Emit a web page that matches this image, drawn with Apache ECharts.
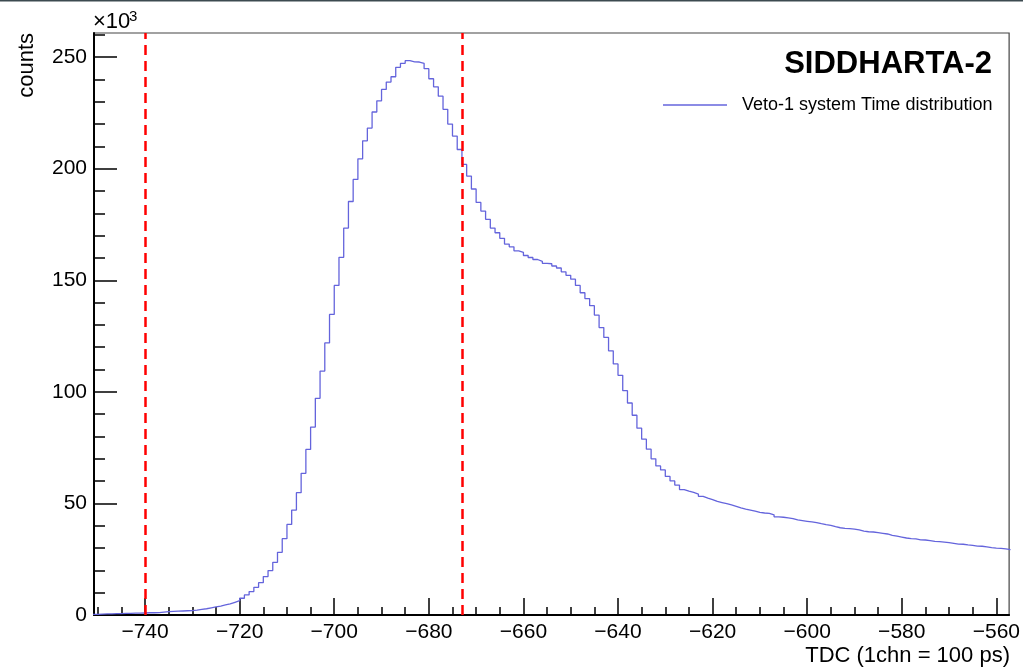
<!DOCTYPE html>
<html>
<head>
<meta charset="utf-8">
<script src="https://cdn.jsdelivr.net/npm/echarts@6/dist/echarts.min.js"></script>
<style>
html,body{margin:0;padding:0;background:#fff;}
#chart{width:1023px;height:667px;}
</style>
</head>
<body>
<div id="chart"></div>
<script>
// Histogram definition: bins of width 1 channel, first bin low edge at -751
const binLowEdge = -751;
const binWidth = 1;
// Counts per bin, in units of 10^3
const countsK = [
  0.3, 0.4, 0.5, 0.5, 0.6, 0.6, 0.7, 0.7, 0.8, 0.8,
  0.9, 1.0, 1.0, 1.1, 1.3, 1.5, 1.6, 1.7, 1.8, 1.9,
  2.0, 2.2, 2.5, 2.8, 3.2, 3.6, 4.0, 4.5, 5.0, 5.7,
  6.4, 7.5, 9.0, 10.5, 12.4, 14.5, 17.2, 19.9, 23.6, 28.1,
  34.2, 40.6, 47.0, 54.8, 63.5, 74.2, 84.2, 97.1, 109.3, 121.9,
  134.7, 147.7, 160.3, 173.4, 185.3, 195.2, 204.4, 212.5, 218.2, 225.4,
  230.4, 235.5, 238.8, 241.2, 245.4, 247.2, 248.4, 247.9, 247.8, 247.2,
  244.8, 240.3, 236.7, 232.5, 226.6, 220.0, 214.6, 208.6, 201.9, 196.7,
  190.9, 184.9, 181.0, 177.3, 173.4, 171.3, 168.8, 166.2, 165.0, 163.2,
  162.5, 161.1, 160.2, 159.3, 158.5, 157.6, 157.4, 156.4, 155.5, 153.8,
  152.2, 150.5, 147.7, 144.4, 141.8, 138.6, 134.4, 128.8, 124.4, 118.4,
  112.5, 107.4, 100.5, 95.0, 89.5, 83.7, 78.8, 74.3, 70.0, 66.8,
  65.0, 62.1, 60.1, 58.2, 56.2, 55.5, 54.9, 54.2, 53.2, 52.4,
  51.7, 50.9, 50.4, 49.9, 49.3, 48.7, 48.0, 47.4, 47.0, 46.5,
  46.0, 45.7, 45.5, 44.9, 44.0, 43.8, 43.5, 43.2, 42.6, 42.3,
  42.0, 41.7, 41.4, 40.9, 40.5, 40.2, 39.6, 39.1, 38.8, 38.7,
  38.5, 38.1, 37.6, 37.3, 37.2, 36.9, 36.6, 36.3, 35.7, 35.3,
  34.9, 34.5, 34.2, 34.1, 33.7, 33.6, 33.3, 33.0, 32.9, 32.7,
  32.4, 32.1, 31.8, 31.7, 31.4, 31.2, 30.9, 30.8, 30.5, 30.2,
  30.0, 29.9, 29.6, 29.3
];
const xMajorTicks = [-740, -720, -700, -680, -660, -640, -620, -600, -580, -560];
const xMinorTicks = [-750, -745, -740, -735, -730, -725, -720, -715, -710, -705, -700, -695, -690, -685, -680, -675, -670, -665, -660, -655, -650, -645, -640, -635, -630, -625, -620, -615, -610, -605, -600, -595, -590, -585, -580, -575, -570, -565, -560];
const yMajorTicks = [0, 50, 100, 150, 200, 250];
const yMinorTicks = [10, 20, 30, 40, 60, 70, 80, 90, 110, 120, 130, 140, 160, 170, 180, 190, 210, 220, 230, 240, 260];
const cutLines = [-740, -673];
const seriesName = 'Veto-1 system Time distribution';
const titleText = 'SIDDHARTA-2';
const xTitle = 'TDC (1chn = 100 ps)';
const yTitle = 'counts';
const xRange = [-750.8, -557.3];
const yRange = [0, 260.8];

const pts = countsK.map((v, i) => [binLowEdge + i * binWidth, v]);
pts.push([binLowEdge + countsK.length * binWidth, countsK[countsK.length - 1]]);

const FONT = 'Liberation Sans, Helvetica, Arial, sans-serif';
const fmtMinus = v => String(v).replace('-', '\u2212');

const chart = echarts.init(document.getElementById('chart'), null, {renderer: 'canvas'});
chart.setOption({
  animation: false,
  backgroundColor: '#fff',
  textStyle: {fontFamily: FONT},
  title: {
    text: titleText,
    right: 26, top: 44,
    textStyle: {fontSize: 31, fontWeight: 'bold', color: '#000', fontFamily: FONT}
  },
  legend: {
    data: [seriesName],
    left: 658, top: 91,
    icon: 'rect', itemWidth: 64, itemHeight: 1.5, itemGap: 14,
    selectedMode: false,
    textStyle: {fontSize: 18, color: '#000', fontFamily: FONT, padding: [0, 0, 0, 10]}
  },
  grid: {
    left: 94, right: 13, top: 33, bottom: 52,
    show: true, borderColor: '#444', borderWidth: 1.2,
    containLabel: false
  },
  xAxis: [{
    type: 'value', min: xRange[0], max: xRange[1], position: 'bottom',
    axisLine: {show: true, onZero: false, lineStyle: {color: '#000', width: 2}},
    axisTick: {show: true, inside: true, length: 17, customValues: xMajorTicks, lineStyle: {color: '#000', width: 1.5}},
    axisLabel: {show: true, customValues: xMajorTicks, formatter: fmtMinus, fontSize: 21, color: '#000', margin: 7, fontFamily: FONT},
    splitLine: {show: false}
  }, {
    type: 'value', min: xRange[0], max: xRange[1], position: 'bottom', offset: 0,
    axisLine: {show: false},
    axisTick: {show: true, inside: true, length: 8, customValues: xMinorTicks, lineStyle: {color: '#000', width: 1.5}},
    axisLabel: {show: false},
    splitLine: {show: false}
  }],
  yAxis: [{
    type: 'value', min: yRange[0], max: yRange[1], position: 'left',
    axisLine: {show: true, onZero: false, lineStyle: {color: '#000', width: 2}},
    axisTick: {show: true, inside: true, length: 23, customValues: yMajorTicks, lineStyle: {color: '#000', width: 1.5}},
    axisLabel: {show: true, customValues: yMajorTicks, fontSize: 21, color: '#000', margin: 7, fontFamily: FONT},
    splitLine: {show: false}
  }, {
    type: 'value', min: yRange[0], max: yRange[1], position: 'left', offset: 0,
    axisLine: {show: false},
    axisTick: {show: true, inside: true, length: 11, customValues: yMinorTicks, lineStyle: {color: '#000', width: 1.5}},
    axisLabel: {show: false},
    splitLine: {show: false}
  }],
  series: [{
    name: seriesName,
    type: 'line',
    xAxisIndex: 0, yAxisIndex: 0,
    step: 'end',
    data: pts,
    showSymbol: false,
    clip: true,
    color: '#6464dc',
    lineStyle: {color: '#6464dc', width: 1.3},
    markLine: {
      silent: true,
      symbol: ['none', 'none'],
      label: {show: false},
      lineStyle: {color: '#ff0000', width: 2.5, type: [10, 6]},
      data: cutLines.map(v => ({xAxis: v}))
    }
  }],
  graphic: [
    {type: 'rect', shape: {x: 0, y: 0, width: 1023, height: 1.5}, style: {fill: '#3c4a50'}},
    {type: 'text', x: 93, y: 33, style: {text: '\u00d710', font: '22px ' + FONT, fill: '#000', verticalAlign: 'bottom'}},
    {type: 'text', x: 129, y: 24, style: {text: '3', font: '15px ' + FONT, fill: '#000', verticalAlign: 'bottom'}},
    {type: 'text', x: 27, y: 33, rotation: Math.PI / 2, style: {text: yTitle, font: '22px ' + FONT, fill: '#000', align: 'right', verticalAlign: 'middle'}},
    {type: 'text', x: 1010, y: 656, style: {text: xTitle, font: '22px ' + FONT, fill: '#000', align: 'right', verticalAlign: 'middle'}}
  ]
});
</script>
</body>
</html>
